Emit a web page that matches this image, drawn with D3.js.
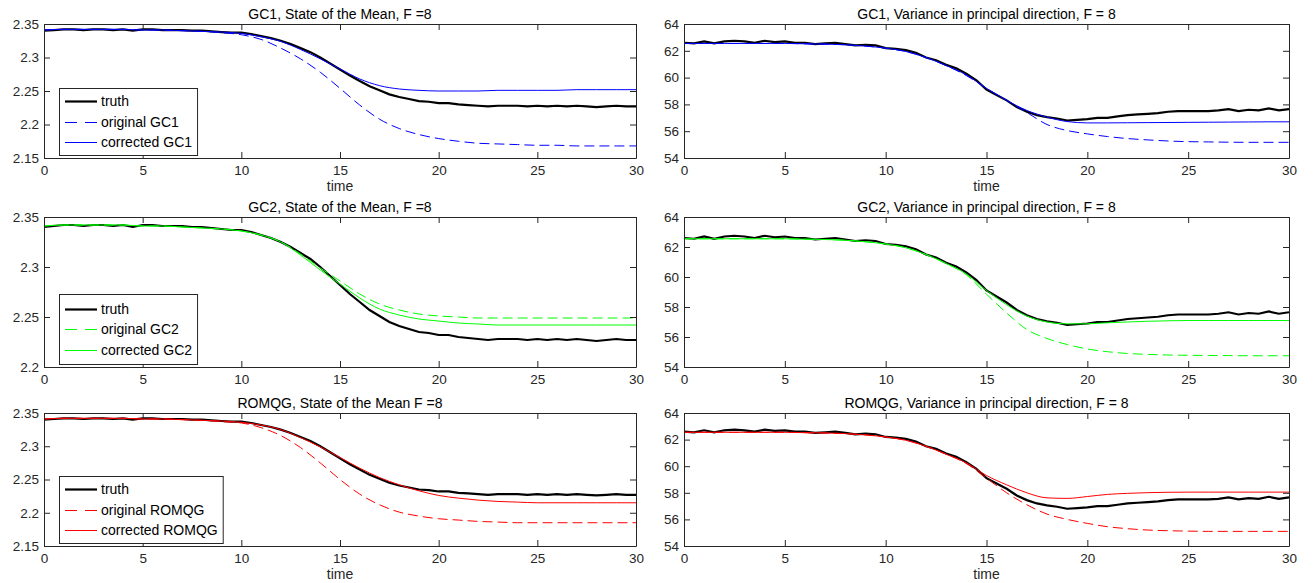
<!DOCTYPE html>
<html>
<head>
<meta charset="utf-8">
<script src="https://cdn.jsdelivr.net/npm/d3@7/dist/d3.min.js"></script>
<style>
  body { margin: 0; background: #fff; }
  svg { display: block; font-family: "Liberation Sans", Arial, sans-serif; }
  .axis text { fill: #262626; font-size: 13.5px; }
  .axis path, .axis line { stroke: #262626; }
</style>
</head>
<body>
<div id="chart"></div>
<script>
// time grids
var tCoarse = [0,1,2,3,4,5,6,7,8,9,10,11,12,13,14,15,16,17,18,19,20,21,22,23,24,25,26,27,28,29,30];
var tFine = [0,0.5,1,1.5,2,2.5,3,3.5,4,4.5,5,5.5,6,6.5,7,7.5,8,8.5,9,9.5,
  10,10.5,11,11.5,12,12.5,13,13.5,14,14.5,15,15.5,16,16.5,17,17.5,18,18.5,19,19.5,
  20,20.5,21,21.5,22,22.5,23,23.5,24,24.5,25,25.5,26,26.5,27,27.5,28,28.5,29,29.5,30];

// truth (sampled on tFine)
var meanTruth = [2.340,2.341,2.342,2.342,2.341,2.342,2.342,2.341,2.342,2.340,
  2.342,2.342,2.341,2.341,2.341,2.340,2.340,2.339,2.338,2.337,
  2.337,2.335,2.332,2.329,2.325,2.320,2.314,2.308,2.300,2.291,
  2.282,2.273,2.265,2.257,2.251,2.245,2.241,2.238,2.235,2.234,
  2.232,2.232,2.230,2.229,2.228,2.227,2.228,2.228,2.228,2.227,
  2.228,2.227,2.228,2.227,2.228,2.227,2.226,2.227,2.228,2.227,2.227];
var varTruth = [62.60,62.55,62.70,62.55,62.70,62.75,62.70,62.60,62.75,62.65,
  62.70,62.60,62.60,62.50,62.55,62.60,62.50,62.40,62.45,62.40,
  62.20,62.15,62.05,61.85,61.50,61.30,60.95,60.70,60.30,59.80,
  59.10,58.70,58.30,57.80,57.45,57.20,57.05,56.95,56.80,56.85,
  56.90,57.00,57.00,57.10,57.20,57.25,57.30,57.35,57.45,57.50,
  57.50,57.50,57.50,57.55,57.65,57.50,57.60,57.55,57.70,57.55,57.65];

// models (sampled on tCoarse)
var gc1MeanOrig = [2.341,2.342,2.342,2.342,2.342,2.341,2.341,2.340,2.339,2.337,2.334,2.327,2.314,2.298,2.278,2.254,2.229,2.208,2.194,2.185,2.179,2.175,2.172,2.171,2.170,2.169,2.169,2.168,2.168,2.168,2.168];
var gc1MeanCorr = [2.341,2.342,2.342,2.342,2.342,2.341,2.341,2.340,2.339,2.338,2.336,2.331,2.324,2.312,2.298,2.283,2.268,2.258,2.253,2.251,2.250,2.250,2.250,2.251,2.251,2.251,2.251,2.252,2.252,2.252,2.252];
var gc2MeanOrig = [2.341,2.342,2.342,2.342,2.342,2.341,2.341,2.340,2.339,2.338,2.336,2.332,2.325,2.313,2.299,2.286,2.273,2.263,2.257,2.253,2.251,2.250,2.249,2.249,2.249,2.249,2.249,2.249,2.249,2.249,2.249];
var gc2MeanCorr = [2.341,2.342,2.342,2.342,2.342,2.341,2.341,2.340,2.339,2.338,2.336,2.332,2.325,2.312,2.297,2.283,2.269,2.258,2.252,2.248,2.246,2.244,2.243,2.242,2.242,2.242,2.242,2.242,2.242,2.242,2.242];
var romMeanOrig = [2.341,2.342,2.342,2.342,2.342,2.341,2.341,2.340,2.339,2.337,2.335,2.328,2.316,2.298,2.275,2.250,2.228,2.212,2.201,2.195,2.191,2.189,2.187,2.186,2.185,2.185,2.185,2.185,2.185,2.185,2.185];
var romMeanCorr = [2.341,2.342,2.342,2.342,2.342,2.341,2.341,2.340,2.339,2.338,2.336,2.332,2.325,2.313,2.299,2.283,2.267,2.253,2.242,2.233,2.226,2.222,2.219,2.217,2.216,2.215,2.215,2.215,2.215,2.215,2.215];

var gc1VarOrig = [62.55,62.55,62.55,62.55,62.55,62.55,62.52,62.50,62.45,62.35,62.20,61.95,61.50,60.90,60.15,59.20,58.30,57.40,56.50,56.05,55.80,55.60,55.45,55.35,55.27,55.22,55.20,55.18,55.17,55.17,55.17];
var gc1VarCorr = [62.55,62.55,62.55,62.55,62.55,62.55,62.52,62.50,62.45,62.35,62.20,61.95,61.50,60.90,60.20,59.20,58.30,57.55,57.05,56.72,56.62,56.62,56.63,56.64,56.65,56.66,56.67,56.68,56.69,56.70,56.70];
var gc2VarOrig = [62.55,62.55,62.55,62.55,62.55,62.55,62.52,62.50,62.45,62.35,62.20,61.95,61.50,60.90,60.15,58.85,57.60,56.50,55.90,55.50,55.20,55.02,54.90,54.84,54.80,54.78,54.77,54.76,54.75,54.75,54.75];
var gc2VarCorr = [62.55,62.55,62.55,62.55,62.55,62.55,62.52,62.50,62.45,62.35,62.20,61.95,61.50,60.90,60.20,59.10,58.15,57.40,57.00,56.88,56.88,56.95,57.00,57.05,57.08,57.10,57.10,57.10,57.10,57.10,57.10];
var romVarOrig = [62.55,62.55,62.55,62.55,62.55,62.55,62.52,62.50,62.45,62.35,62.20,61.95,61.50,60.90,60.20,59.10,58.00,57.10,56.40,56.00,55.70,55.45,55.30,55.20,55.15,55.12,55.10,55.10,55.10,55.10,55.10];
var romVarCorr = [62.55,62.55,62.55,62.55,62.55,62.55,62.52,62.50,62.45,62.35,62.20,61.95,61.50,60.90,60.25,59.30,58.60,58.00,57.62,57.58,57.72,57.88,57.96,58.01,58.04,58.05,58.05,58.05,58.05,58.05,58.05];

var xTicks = [0,5,10,15,20,25,30];
var meanTicksA = [2.15,2.2,2.25,2.3,2.35];
var meanTicksB = [2.2,2.25,2.3,2.35];
var varTicks = [54,56,58,60,62,64];

var titles = [
  "GC1, State of the Mean, F =8", "GC1, Variance in principal direction, F = 8",
  "GC2, State of the Mean, F =8", "GC2, Variance in principal direction, F = 8",
  "ROMQG, State of the Mean F =8", "ROMQG, Variance in principal direction, F = 8"
];
var modelNames = ["GC1", "GC2", "ROMQG"];
var modelColors = ["#0000ff", "#00ff00", "#ff0000"];

// layout
var W = 1316, H = 583;
var cols = [{x0: 44, x1: 636}, {x0: 684, x1: 1289}];
var rows = [{y0: 24, y1: 158, xlabel: true}, {y0: 217, y1: 367, xlabel: false}, {y0: 413, y1: 546, xlabel: true}];

var svg = d3.select("#chart").append("svg")
  .attr("width", W).attr("height", H);

var panels = [
  {r: 0, c: 0, dom: [2.15, 2.35], ticks: meanTicksA, truth: meanTruth, orig: gc1MeanOrig, corr: gc1MeanCorr},
  {r: 0, c: 1, dom: [54, 64], ticks: varTicks, truth: varTruth, orig: gc1VarOrig, corr: gc1VarCorr},
  {r: 1, c: 0, dom: [2.2, 2.35], ticks: meanTicksB, truth: meanTruth, orig: gc2MeanOrig, corr: gc2MeanCorr},
  {r: 1, c: 1, dom: [54, 64], ticks: varTicks, truth: varTruth, orig: gc2VarOrig, corr: gc2VarCorr},
  {r: 2, c: 0, dom: [2.15, 2.35], ticks: meanTicksA, truth: meanTruth, orig: romMeanOrig, corr: romMeanCorr},
  {r: 2, c: 1, dom: [54, 64], ticks: varTicks, truth: varTruth, orig: romVarOrig, corr: romVarCorr}
];

var fmt = function (d) { return String(+d.toFixed(2)); };

panels.forEach(function (p, i) {
  var col = cols[p.c], row = rows[p.r];
  var w = col.x1 - col.x0, h = row.y1 - row.y0;
  var color = modelColors[p.r];

  var x = d3.scaleLinear().domain([0, 30]).range([0, w]);
  var y = d3.scaleLinear().domain(p.dom).range([h, 0]);

  var g = svg.append("g").attr("transform", "translate(" + col.x0 + "," + row.y0 + ")");

  g.append("clipPath").attr("id", "clip" + i)
    .append("rect").attr("width", w).attr("height", h);

  var plot = g.append("g").attr("clip-path", "url(#clip" + i + ")");

  var smooth = d3.line()
    .x(function (d, k) { return x(tCoarse[k]); })
    .y(function (d) { return y(d); })
    .curve(d3.curveMonotoneX);
  var rough = d3.line()
    .x(function (d, k) { return x(tFine[k]); })
    .y(function (d) { return y(d); });

  plot.append("path").attr("d", rough(p.truth))
    .attr("fill", "none").attr("stroke", "#000").attr("stroke-width", 2.2);
  plot.append("path").attr("d", smooth(p.orig))
    .attr("fill", "none").attr("stroke", color).attr("stroke-width", 1)
    .attr("stroke-dasharray", "10,5");
  plot.append("path").attr("d", smooth(p.corr))
    .attr("fill", "none").attr("stroke", color).attr("stroke-width", 1);

  // axes, MATLAB style: inward ticks on all four sides
  g.append("g").attr("class", "axis")
    .attr("transform", "translate(0," + h + ")")
    .call(d3.axisBottom(x).tickValues(xTicks).tickSizeInner(-6).tickSizeOuter(0).tickPadding(7));
  g.append("g").attr("class", "axis")
    .call(d3.axisTop(x).tickValues(xTicks).tickSizeInner(-6).tickSizeOuter(0).tickFormat(""));
  g.append("g").attr("class", "axis")
    .call(d3.axisLeft(y).tickValues(p.ticks).tickSizeInner(-6).tickSizeOuter(0).tickPadding(5).tickFormat(fmt));
  g.append("g").attr("class", "axis")
    .attr("transform", "translate(" + w + ",0)")
    .call(d3.axisRight(y).tickValues(p.ticks).tickSizeInner(-6).tickSizeOuter(0).tickFormat(""));

  g.append("text")
    .attr("x", w / 2).attr("y", -5)
    .attr("text-anchor", "middle")
    .style("font-size", "14px").style("fill", "#000")
    .text(titles[i]);

  if (row.xlabel) {
    g.append("text")
      .attr("x", w / 2).attr("y", h + 33)
      .attr("text-anchor", "middle")
      .style("font-size", "14px").style("fill", "#262626")
      .text("time");
  }

  // legend only in the left column
  if (p.c === 0) {
    var entries = [
      {label: "truth", stroke: "#000", sw: 2.2, dash: null},
      {label: "original " + modelNames[p.r], stroke: color, sw: 1, dash: "12,8"},
      {label: "corrected " + modelNames[p.r], stroke: color, sw: 1, dash: null}
    ];
    var lx = 15, lh = (p.r === 1) ? 70 : 67;
    var ly = h - 3 - lh;
    var leg = g.append("g").attr("transform", "translate(" + lx + "," + ly + ")");
    var box = leg.append("rect").attr("fill", "#fff").attr("stroke", "#262626").attr("stroke-width", 1)
      .attr("x", 0.5).attr("y", 0.5).attr("height", lh);
    var maxW = 0;
    entries.forEach(function (e, k) {
      var cy = Math.round(lh / 2 + (k - 1) * 20.5) + 0.5;
      leg.append("line").attr("x1", 6).attr("x2", 38).attr("y1", cy).attr("y2", cy)
        .attr("stroke", e.stroke).attr("stroke-width", e.sw)
        .attr("stroke-dasharray", e.dash);
      var t = leg.append("text").attr("x", 42).attr("y", cy).attr("dy", "0.35em")
        .style("font-size", "14px").style("fill", "#000").text(e.label);
      maxW = Math.max(maxW, t.node().getComputedTextLength());
    });
    box.attr("width", 42 + maxW + 5);
  }
});
</script>
</body>
</html>
